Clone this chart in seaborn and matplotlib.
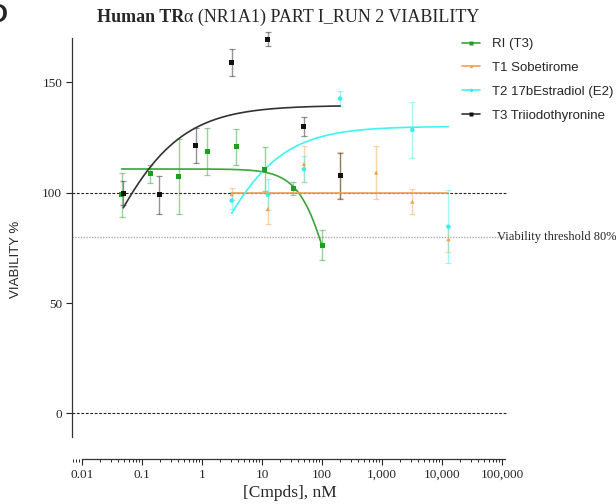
import numpy as np
import pandas as pd
import matplotlib
matplotlib.use("Agg")
import matplotlib.pyplot as plt
import matplotlib.ticker as mticker
from matplotlib.lines import Line2D
import seaborn as sns

# ---------------- data ----------------
ri_x = [0.0457, 0.137, 0.412, 1.23, 3.70, 11.1, 33.3, 100]
ri_y = [99.0, 108.5, 107.1, 118.7, 120.7, 110.6, 101.7, 76.2]
ri_err = [10.0, 4.2, 17.0, 10.5, 8.2, 10.0, 3.0, 6.8]

t1_x = [3.125, 12.5, 50, 200, 800, 3200, 12800]
t1_y = [99.4, 92.6, 112.9, 108.0, 109.1, 95.9, 78.9]
t1_err = [2.7, 7.0, 8.0, 10.5, 11.8, 5.7, 6.0]

t2_x = [3.125, 12.5, 50, 200, 3200, 12800]
t2_y = [96.4, 99.0, 110.6, 142.6, 128.4, 84.6]
t2_err = [3.7, 7.0, 5.8, 3.5, 12.7, 16.6]

t3_x = [0.0488, 0.195, 0.781, 3.125, 12.5, 50, 200]
t3_y = [99.7, 99.0, 121.3, 158.9, 169.5, 129.8, 107.6]
t3_err = [5.5, 8.7, 7.8, 6.1, 3.0, 4.3, 10.3]

# fitted curve parameters (bottom, top, logEC50, hill)
ri_fit = [0.0, 110.7, 2.21, -1.61]
t1_fit = [100.0, 100.0, 1.0, 1.0]
t2_fit = [0.0, 130.0, -0.014, 0.713]
t3_fit = [0.0, 139.5, -1.767, 0.665]

labels = ["RI (T3)", "T1 Sobetirome", "T2 17bEstradiol (E2)", "T3 Triiodothyronine"]
x_tick_vals = [0.01, 0.1, 1, 10, 100, 1000, 10000, 100000]
x_tick_labels = ["0.01", "0.1", "1", "10", "100", "1,000", "10,000", "100,000"]
y_tick_vals = [0, 50, 100, 150]

# ---------------- style ----------------
sns.set_style("ticks")
plt.rcParams["font.family"] = ["Liberation Sans", "DejaVu Sans"]

fig = plt.figure(figsize=(6.16, 5.04), dpi=100)
ax = fig.add_axes([72 / 616, (504 - 459) / 504, 435 / 616, (459 - 38) / 504])

colors = {"RI (T3)": "#1f9e1f", "T1 Sobetirome": "#f5a04a",
          "T2 17bEstradiol (E2)": "#33f0f0", "T3 Triiodothyronine": "#111111"}
curve_colors = {"RI (T3)": "#3aa53a", "T1 Sobetirome": "#f0a050",
                "T2 17bEstradiol (E2)": "#40f4f4", "T3 Triiodothyronine": "#333333"}
markers = {"RI (T3)": "s", "T1 Sobetirome": "^",
           "T2 17bEstradiol (E2)": "o", "T3 Triiodothyronine": "s"}
msizes = {"RI (T3)": 3.6, "T1 Sobetirome": 3.0,
          "T2 17bEstradiol (E2)": 3.2, "T3 Triiodothyronine": 3.6}

series = [
    ("RI (T3)", ri_x, ri_y, ri_err, ri_fit),
    ("T1 Sobetirome", t1_x, t1_y, t1_err, t1_fit),
    ("T2 17bEstradiol (E2)", t2_x, t2_y, t2_err, t2_fit),
    ("T3 Triiodothyronine", t3_x, t3_y, t3_err, t3_fit),
]

# reference lines
ax.axhline(100, color="#222222", lw=0.8, ls=(0, (2.5, 1.5)), zorder=1)
ax.axhline(0, color="#222222", lw=0.8, ls=(0, (2.5, 1.5)), zorder=1)
ax.axhline(80, color="#aaaaaa", lw=1.0, ls=(0, (1, 1)), zorder=1)

def logistic(x, p):
    b, t, lec, h = p
    return b + (t - b) / (1 + 10 ** ((lec - np.log10(x)) * h))

for name, xs, ys, es, fit in series:
    xx = np.logspace(np.log10(min(xs)), np.log10(max(xs)), 200)
    cdf = pd.DataFrame({"x": xx, "y": logistic(xx, fit)})
    sns.lineplot(data=cdf, x="x", y="y", ax=ax, color=curve_colors[name],
                 lw=1.2, zorder=3, legend=False)
    ax.errorbar(xs, ys, yerr=es, fmt="none", ecolor=colors[name], alpha=0.45,
                elinewidth=1.0, capsize=2.2, capthick=0.9, zorder=2, clip_on=False)
    pdf = pd.DataFrame({"x": xs, "y": ys})
    sns.scatterplot(data=pdf, x="x", y="y", ax=ax, color=colors[name],
                    marker=markers[name], s=msizes[name] ** 2, edgecolor="none",
                    zorder=4, legend=False, clip_on=False)

ax.set_xscale("log")
ax.set_xlim(10 ** ((72 - 82) / 60 - 2), 10 ** ((507 - 82) / 60 - 2))
ax.set_ylim(-20.6, 170)

ax.spines["top"].set_visible(False)
ax.spines["right"].set_visible(False)
ax.spines["left"].set_bounds(-10.5, 170)
ax.spines["bottom"].set_bounds(0.01, 1.12e5)
for s in ["left", "bottom"]:
    ax.spines[s].set_linewidth(0.9)
    ax.spines[s].set_color("#333333")

ax.set_xticks(x_tick_vals)
ax.set_xticklabels(x_tick_labels, family="Liberation Serif", fontsize=9.5)
ax.xaxis.set_minor_locator(mticker.LogLocator(base=10, subs=np.arange(2, 10), numticks=20))
ax.xaxis.set_minor_formatter(mticker.NullFormatter())
ax.tick_params(axis="x", which="major", length=4, width=0.8, direction="out", pad=3)
ax.tick_params(axis="x", which="minor", length=2.5, width=0.7, direction="out")
ax.set_yticks(y_tick_vals)
ax.set_yticklabels([str(v) for v in y_tick_vals], family="Liberation Serif", fontsize=9.5)
ax.tick_params(axis="y", which="major", length=4, width=0.8, direction="out", pad=3)
ax.tick_params(axis="y", which="minor", length=0)

ax.set_xlabel("[Cmpds], nM", family="Liberation Serif", fontsize=12.5, labelpad=3)
ax.set_ylabel("VIABILITY %", family="Liberation Sans", fontsize=9.5)
ax.yaxis.set_label_coords(-0.115, 0.475)

ax.text(10 ** ((497 - 82) / 60 - 2), 80, "Viability threshold 80%", family="Liberation Serif",
        fontsize=9, va="center", ha="left", clip_on=False)

# title with bold start
split_x = 184 / 616
fig.text(split_x, 1 - 17 / 504, "Human TR", family="Liberation Serif", fontweight="bold",
         fontsize=13, ha="right", va="center")
fig.text(split_x, 1 - 17 / 504, "\u03b1 (NR1A1) PART I_RUN 2 VIABILITY",
         family="Liberation Serif", fontsize=13, ha="left", va="center")
fig.text(-12 / 616, 1 - 15 / 504, "D", family="Liberation Sans", fontweight="bold",
         fontsize=19, ha="left", va="center")

# legend
handles = [Line2D([0], [0], color=curve_colors[n], lw=1.2, marker=markers[n],
                  markersize=msizes[n] * 0.8, markerfacecolor=colors[n],
                  markeredgecolor="none") for n in labels]
fig.legend(handles, labels, loc="upper left", bbox_to_anchor=(462 / 616, 1 - 38 / 504),
           frameon=False, fontsize=9.5, handlelength=1.4, handletextpad=0.85,
           labelspacing=0.88, borderpad=0, borderaxespad=0)

fig.savefig("out.png", dpi=100)
